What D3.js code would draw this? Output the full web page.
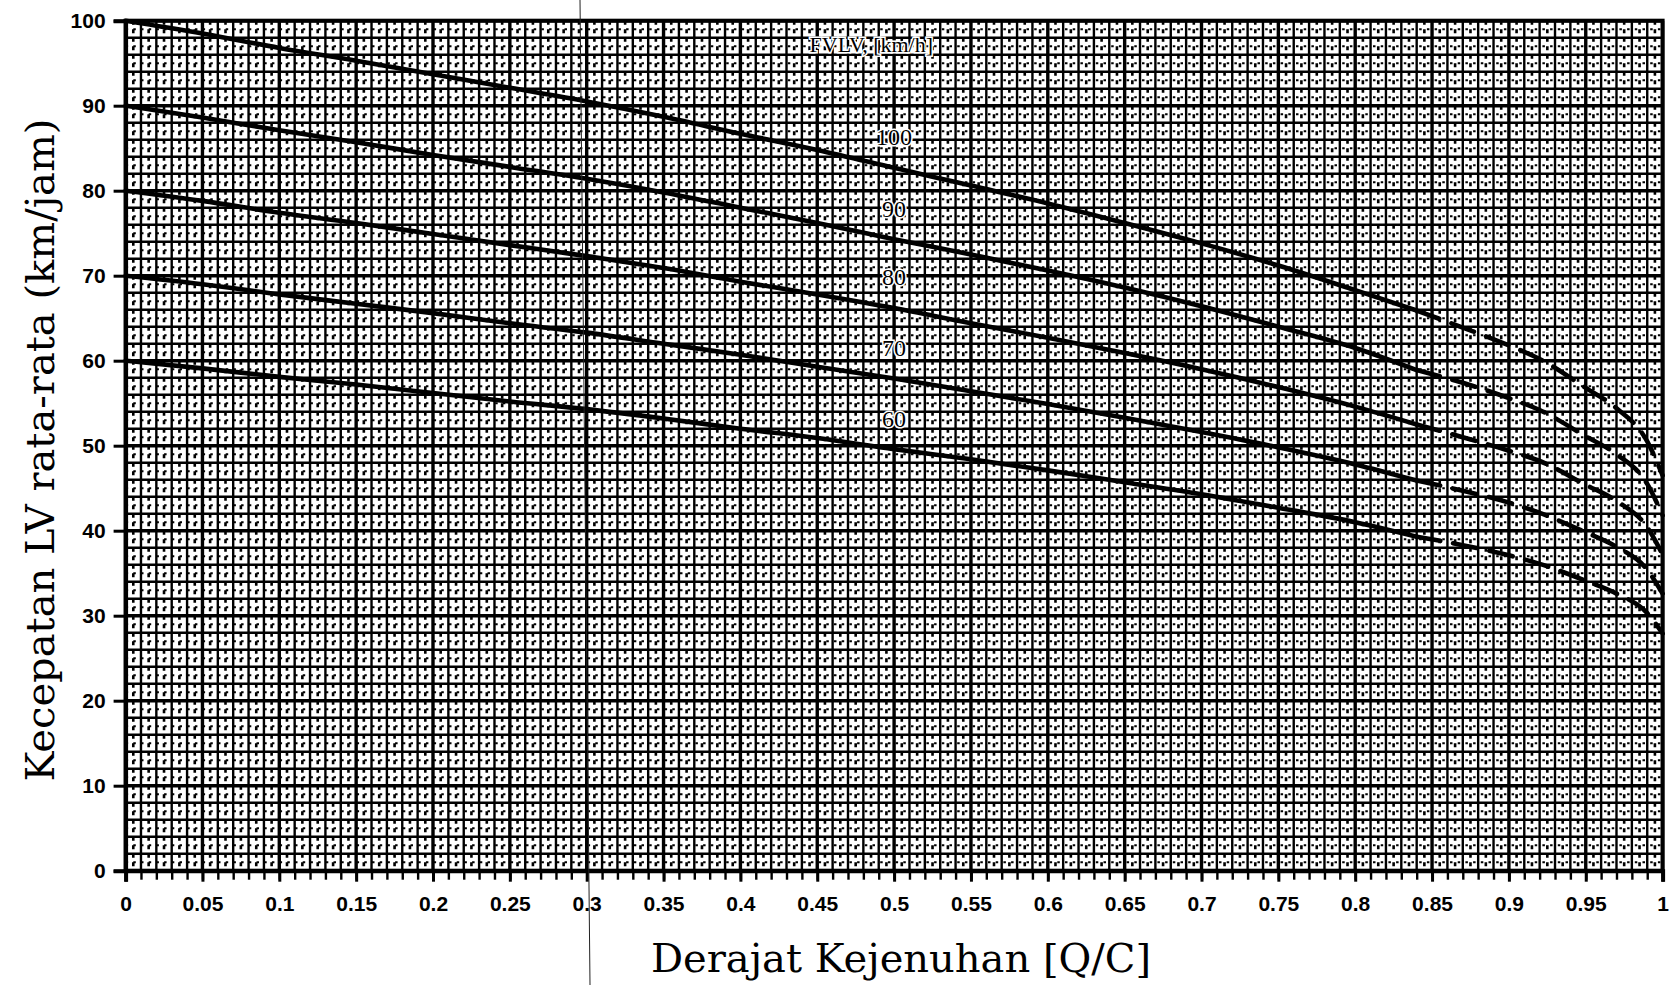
<!DOCTYPE html>
<html>
<head>
<meta charset="utf-8">
<script src="https://cdn.jsdelivr.net/npm/d3@7"></script>
<style>
  html, body { margin: 0; padding: 0; background: #fff; }
  svg { display: block; }
</style>
</head>
<body>
<svg id="chart" width="1669" height="985"></svg>
<script>
// Degree of saturation (Q/C) tick values and labels
const xTickValues = [0, 0.05, 0.1, 0.15, 0.2, 0.25, 0.3, 0.35, 0.4, 0.45, 0.5,
                     0.55, 0.6, 0.65, 0.7, 0.75, 0.8, 0.85, 0.9, 0.95, 1];
const xTickLabels = ["0", "0.05", "0.1", "0.15", "0.2", "0.25", "0.3", "0.35", "0.4", "0.45", "0.5",
                     "0.55", "0.6", "0.65", "0.7", "0.75", "0.8", "0.85", "0.9", "0.95", "1"];
// LV speed ticks (km/jam)
const yTickValues = [0, 10, 20, 30, 40, 50, 60, 70, 80, 90, 100];

// Free-flow speed levels, one curve each
const fvLevels = [100, 90, 80, 70, 60];

// Solid part of each curve
const dsSolid = [0, 0.05, 0.1, 0.15, 0.2, 0.25, 0.3, 0.35, 0.4, 0.45, 0.5,
                 0.55, 0.6, 0.65, 0.7, 0.75, 0.8, 0.84];
const speed100 = [100, 98.5, 96.8, 95.3, 93.7, 92.1, 90.5, 88.7, 86.7, 84.8, 82.7,
                  80.6, 78.5, 76.2, 73.8, 71.2, 68.3, 65.9];
const speed90  = [90, 88.6, 87.1, 85.7, 84.2, 82.8, 81.4, 79.8, 78.0, 76.2, 74.3,
                  72.5, 70.6, 68.6, 66.4, 64.0, 61.5, 58.9];
const speed80  = [80, 78.8, 77.4, 76.2, 74.9, 73.6, 72.3, 70.9, 69.3, 67.8, 66.2,
                  64.4, 62.7, 60.9, 59.0, 56.9, 54.6, 52.5];
const speed70  = [70, 69.0, 67.8, 66.7, 65.6, 64.4, 63.3, 62.0, 60.7, 59.3, 57.9,
                  56.4, 54.9, 53.3, 51.6, 49.8, 47.8, 45.9];
const speed60  = [60, 59.1, 58.1, 57.2, 56.2, 55.2, 54.3, 53.2, 52.0, 50.9, 49.6,
                  48.4, 47.1, 45.7, 44.3, 42.7, 41.0, 39.3];

// Dashed continuation near capacity
const dsDashed = [0.84, 0.87, 0.9, 0.92, 0.95, 0.97, 0.99, 1.0];
const tail100 = [65.9, 63.9, 61.8, 60.2, 56.8, 54.4, 50.5, 46.5];
const tail90  = [58.9, 57.4, 55.6, 54.2, 51.1, 49.0, 45.5, 41.8];
const tail80  = [52.5, 51.0, 49.4, 48.2, 45.4, 43.5, 40.4, 37.2];
const tail70  = [45.9, 44.7, 43.3, 42.1, 39.8, 38.1, 35.4, 32.6];
const tail60  = [39.3, 38.3, 37.1, 36.1, 34.1, 32.6, 30.3, 27.9];

const solidSeries = [speed100, speed90, speed80, speed70, speed60];
const dashedSeries = [tail100, tail90, tail80, tail70, tail60];

const legendTitle = "FVLV, [km/h]";
const xTitle = "Derajat Kejenuhan [Q/C]";
const yTitle = "Kecepatan LV rata-rata (km/jam)";

// ---------------------------------------------------------------
const svg = d3.select("#chart");
const plotLeft = 125.6, plotRight = 1662.6, plotTop = 20.7, plotBottom = 870.7;

const x = d3.scaleLinear().domain([0, 1]).range([plotLeft, plotRight]);
const y = d3.scaleLinear().domain([0, 100]).range([plotBottom, plotTop]);

const ink = "#000";
const grid = svg.append("g").attr("class", "grid");

// dotted half-cell lines
const halfX = d3.range(0, 100).map(i => (i + 0.5) / 100);
const oddY = d3.range(1, 100, 2);
grid.selectAll("line.hx").data(halfX).join("line")
  .attr("x1", d => x(d)).attr("x2", d => x(d))
  .attr("y1", plotTop).attr("y2", plotBottom)
  .attr("stroke", ink).attr("stroke-width", 2.6)
  .attr("stroke-dasharray", "4,4.5");
grid.selectAll("line.hy").data(oddY).join("line")
  .attr("x1", plotLeft).attr("x2", plotRight)
  .attr("y1", d => y(d)).attr("y2", d => y(d))
  .attr("stroke", ink).attr("stroke-width", 2)
  .attr("stroke-dasharray", "2.5,5.2");

// minor solid grid: every 0.01 and every 2 km/jam
const minorX = d3.range(1, 100).filter(i => i % 5 !== 0).map(i => i / 100);
const minorY = d3.range(2, 100, 2).filter(v => v % 10 !== 0);
grid.selectAll("line.mx").data(minorX).join("line")
  .attr("x1", d => x(d)).attr("x2", d => x(d))
  .attr("y1", plotTop).attr("y2", plotBottom)
  .attr("stroke", ink).attr("stroke-width", 2.4);
grid.selectAll("line.my").data(minorY).join("line")
  .attr("x1", plotLeft).attr("x2", plotRight)
  .attr("y1", d => y(d)).attr("y2", d => y(d))
  .attr("stroke", ink).attr("stroke-width", 2.4);

// major grid
grid.selectAll("line.Mx").data(xTickValues).join("line")
  .attr("x1", d => x(d)).attr("x2", d => x(d))
  .attr("y1", plotTop).attr("y2", plotBottom)
  .attr("stroke", ink).attr("stroke-width", 3.4);
grid.selectAll("line.My").data(yTickValues).join("line")
  .attr("x1", plotLeft).attr("x2", plotRight)
  .attr("y1", d => y(d)).attr("y2", d => y(d))
  .attr("stroke", ink).attr("stroke-width", 3.4);

// frame
svg.append("rect")
  .attr("x", plotLeft).attr("y", plotTop)
  .attr("width", plotRight - plotLeft).attr("height", plotBottom - plotTop)
  .attr("fill", "none").attr("stroke", ink).attr("stroke-width", 4);

// axes
const fmtX = d => xTickLabels[xTickValues.indexOf(d)];
const xAxis = svg.append("g").attr("transform", `translate(0,${plotBottom})`)
  .call(d3.axisBottom(x).tickValues(xTickValues).tickFormat(fmtX).tickSize(11).tickPadding(16));
const xMinor = svg.append("g").attr("transform", `translate(0,${plotBottom})`)
  .call(d3.axisBottom(x).tickValues(d3.range(0, 101).map(i => i / 100)).tickFormat("").tickSize(9));
xMinor.select(".domain").remove();
xMinor.selectAll(".tick line").attr("stroke-width", 2.4);

const yAxis = svg.append("g").attr("transform", `translate(${plotLeft},0)`)
  .call(d3.axisLeft(y).tickValues(yTickValues).tickSize(12).tickPadding(6));

[xAxis, yAxis].forEach(a => {
  a.select(".domain").attr("stroke-width", 4);
  a.selectAll(".tick line").attr("stroke-width", 3);
  a.selectAll(".tick text")
    .attr("fill", ink)
    .style("font-family", "'Liberation Sans', Arial, sans-serif")
    .style("font-weight", "bold")
    .style("font-size", "21px");
});
xAxis.selectAll(".tick text").attr("dy", "0.62em");
yAxis.selectAll(".tick text").attr("dx", "-2");

// curves
const line = d3.line().x(d => x(d[0])).y(d => y(d[1])).curve(d3.curveMonotoneX);
const curves = svg.append("g").attr("class", "curves");
solidSeries.forEach((vals, i) => {
  curves.append("path")
    .datum(dsSolid.map((d, j) => [d, vals[j]]))
    .attr("d", line)
    .attr("fill", "none").attr("stroke", ink)
    .attr("stroke-width", 4.6).attr("stroke-linecap", "round");
  curves.append("path")
    .datum(dsDashed.map((d, j) => [d, dashedSeries[i][j]]))
    .attr("d", line)
    .attr("fill", "none").attr("stroke", ink)
    .attr("stroke-width", 4.6).attr("stroke-linecap", "round")
    .attr("stroke-dasharray", "24,13");
});

// curve labels at Q/C = 0.5
const labelAt = 0.5;
const labelIdx = dsSolid.indexOf(labelAt);
const labels = svg.append("g").attr("class", "curve-labels");
fvLevels.forEach((fv, i) => {
  const v = solidSeries[i][labelIdx];
  labels.append("text")
    .attr("x", x(labelAt)).attr("y", y(v + 3.6))
    .attr("text-anchor", "middle").attr("dominant-baseline", "central")
    .attr("fill", ink)
    .attr("stroke", "#fff").attr("stroke-width", 3).attr("paint-order", "stroke")
    .style("font-family", "'Liberation Serif', serif")
    .style("font-size", "24px")
    .text(fv);
});
labels.append("text")
  .attr("x", x(0.445)).attr("y", y(97.2))
  .attr("fill", ink)
  .attr("stroke", "#fff").attr("stroke-width", 3).attr("paint-order", "stroke")
  .attr("dominant-baseline", "central")
  .style("font-family", "'Liberation Serif', serif")
  .style("font-size", "22px")
  .text(legendTitle);

// axis titles
svg.append("text")
  .attr("x", 901).attr("y", 972)
  .attr("text-anchor", "middle").attr("fill", ink)
  .style("font-family", "'DejaVu Serif', serif")
  .style("font-size", "40px")
  .text(xTitle);
svg.append("text")
  .attr("transform", "translate(54,450) rotate(-90)")
  .attr("text-anchor", "middle").attr("fill", ink)
  .style("font-family", "'DejaVu Serif', serif")
  .style("font-size", "40px")
  .text(yTitle);

// fine vertical scan line through the sheet
svg.append("line")
  .attr("x1", 580).attr("y1", 0).attr("x2", 590).attr("y2", 985)
  .attr("stroke", "#222").attr("stroke-width", 1);
</script>
</body>
</html>
